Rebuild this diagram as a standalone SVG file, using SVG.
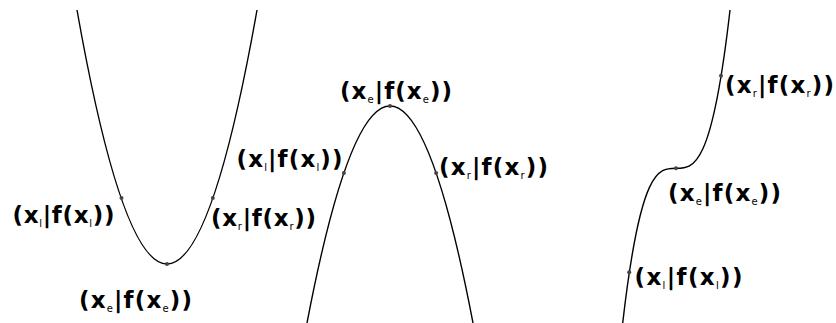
<svg xmlns="http://www.w3.org/2000/svg" width="836" height="323" viewBox="0 0 836 323">
<style>
.curve{fill:none;stroke:#000;stroke-width:1.4}
.pt{fill:#444}
.lbl{font-family:"DejaVu Sans",sans-serif;font-weight:bold;font-size:23px;fill:#000;text-anchor:middle}
.sub{font-size:10px;font-weight:normal}
</style>
<rect width="836" height="323" fill="#fff"/>
<g id="plot-minimum">
<path class="curve" d="M77,10 Q167,518 257,10"/>
<circle class="pt" cx="121.5" cy="198" r="2"/>
<circle class="pt" cx="212.8" cy="198" r="2"/>
<circle class="pt" cx="167" cy="264" r="2"/>
<text class="lbl" x="63.5" y="223" textLength="102" lengthAdjust="spacing">(x<tspan class="sub" dy="4">l</tspan><tspan dy="-4">|f(x</tspan><tspan class="sub" dy="4">l</tspan><tspan dy="-4">))</tspan></text>
<text class="lbl" x="135.5" y="308" textLength="113" lengthAdjust="spacing">(x<tspan class="sub" dy="4">e</tspan><tspan dy="-4">|f(x</tspan><tspan class="sub" dy="4">e</tspan><tspan dy="-4">))</tspan></text>
<text class="lbl" x="263.5" y="226" textLength="105" lengthAdjust="spacing">(x<tspan class="sub" dy="4">r</tspan><tspan dy="-4">|f(x</tspan><tspan class="sub" dy="4">r</tspan><tspan dy="-4">))</tspan></text>
</g>
<g id="plot-maximum">
<path class="curve" d="M307,323 Q390,-111 473,323"/>
<circle class="pt" cx="390" cy="106" r="2"/>
<circle class="pt" cx="343.9" cy="173" r="2"/>
<circle class="pt" cx="436.1" cy="173" r="2"/>
<text class="lbl" x="396" y="99" textLength="112" lengthAdjust="spacing">(x<tspan class="sub" dy="4">e</tspan><tspan dy="-4">|f(x</tspan><tspan class="sub" dy="4">e</tspan><tspan dy="-4">))</tspan></text>
<text class="lbl" x="289.5" y="167" textLength="106" lengthAdjust="spacing">(x<tspan class="sub" dy="4">l</tspan><tspan dy="-4">|f(x</tspan><tspan class="sub" dy="4">l</tspan><tspan dy="-4">))</tspan></text>
<text class="lbl" x="493.5" y="175" textLength="109" lengthAdjust="spacing">(x<tspan class="sub" dy="4">r</tspan><tspan dy="-4">|f(x</tspan><tspan class="sub" dy="4">r</tspan><tspan dy="-4">))</tspan></text>
</g>
<g id="plot-saddle">
<path class="curve" d="M622.7,323 C640.5,168.3 658.2,168.3 676,168.3 C694,168.3 712,168.3 730,10"/>
<circle class="pt" cx="676" cy="168.3" r="2"/>
<circle class="pt" cx="721" cy="75.7" r="2"/>
<circle class="pt" cx="629.2" cy="272.3" r="2"/>
<text class="lbl" x="779.5" y="93" textLength="109" lengthAdjust="spacing">(x<tspan class="sub" dy="4">r</tspan><tspan dy="-4">|f(x</tspan><tspan class="sub" dy="4">r</tspan><tspan dy="-4">))</tspan></text>
<text class="lbl" x="724.5" y="201" textLength="113" lengthAdjust="spacing">(x<tspan class="sub" dy="4">e</tspan><tspan dy="-4">|f(x</tspan><tspan class="sub" dy="4">e</tspan><tspan dy="-4">))</tspan></text>
<text class="lbl" x="688.5" y="285" textLength="108" lengthAdjust="spacing">(x<tspan class="sub" dy="4">l</tspan><tspan dy="-4">|f(x</tspan><tspan class="sub" dy="4">l</tspan><tspan dy="-4">))</tspan></text>
</g>
</svg>
